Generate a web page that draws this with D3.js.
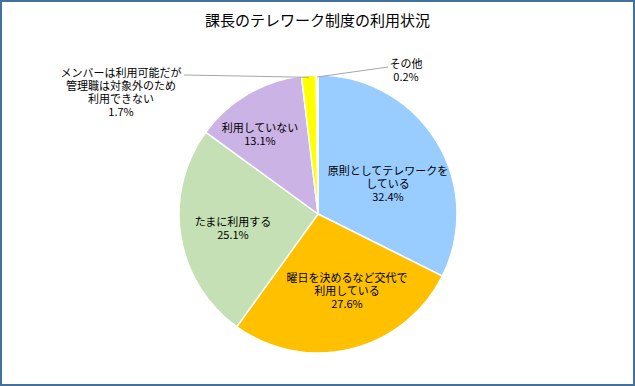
<!DOCTYPE html>
<html>
<head>
<meta charset="utf-8">
<script src="https://cdn.jsdelivr.net/npm/d3@7"></script>
<style>
  body { margin: 0; background: #fff; }
  text { font-family: "Noto Sans CJK JP", sans-serif; fill: #000; }
</style>
</head>
<body>
<script>
// data
const labels = [
    ['原則としてテレワークを', 'している'],
    ['曜日を決めるなど交代で', '利用している'],
    ['たまに利用する'],
    ['利用していない'],
    ['メンバーは利用可能だが', '管理職は対象外のため', '利用できない'],
    ['その他']
];
const values = [32.4, 27.6, 25.1, 13.1, 1.7, 0.2];
const colors = ['#99CCFF', '#FFC000', '#C5E0B4', '#CCB3E6', '#FFFF00', '#DDDDDD'];

// label offsets from pie center (layout, not data)
const labelPos = [[70, -30], [29, 77], [-85, 14], [-58, -80], [-197, -122], [88, -144]];
const leaderEnd = [null, null, null, null, [-134, -139], [70, -147]];

const width = 635, height = 386;
const cx = 318, cy = 214, r = 139;

const svg = d3.select('body').append('svg')
    .attr('width', width)
    .attr('height', height);

svg.append('rect')
    .attr('x', 1).attr('y', 1)
    .attr('width', width - 2).attr('height', height - 2)
    .attr('fill', '#fff')
    .attr('stroke', '#41719C')
    .attr('stroke-width', 2);

svg.append('text')
    .attr('x', width / 2)
    .attr('y', 26)
    .attr('text-anchor', 'middle')
    .attr('font-size', 15)
    .text('課長のテレワーク制度の利用状況');

const pie = d3.pie().sort(null).value(d => d);
const arcs = pie(values);
const arc = d3.arc().innerRadius(0).outerRadius(r);

const g = svg.append('g').attr('transform', `translate(${cx},${cy})`);

g.selectAll('path')
    .data(arcs)
    .join('path')
    .attr('d', arc)
    .attr('fill', (d, i) => colors[i])
    .attr('stroke', '#fff')
    .attr('stroke-width', 1.5);

// leader lines for small slices
arcs.forEach((d, i) => {
    if (!leaderEnd[i]) return;
    const mid = (d.startAngle + d.endAngle) / 2;
    const rr = r - 2;
    const px = Math.sin(mid) * rr, py = -Math.cos(mid) * rr;
    g.append('line')
        .attr('x1', leaderEnd[i][0]).attr('y1', leaderEnd[i][1])
        .attr('x2', px).attr('y2', py)
        .attr('stroke', '#A6A6A6')
        .attr('stroke-width', 1);
});

arcs.forEach((d, i) => {
    const lines = labels[i].concat([d3.format('.1f')(values[i]) + '%']);
    const lh = 13;
    const [lx, ly] = labelPos[i];
    const t = g.append('text')
        .attr('text-anchor', 'middle')
        .attr('font-size', 11);
    lines.forEach((s, k) => {
        t.append('tspan')
            .attr('x', lx)
            .attr('y', ly + (k - (lines.length - 1) / 2) * lh + 4)
            .text(s);
    });
});
</script>
</body>
</html>
